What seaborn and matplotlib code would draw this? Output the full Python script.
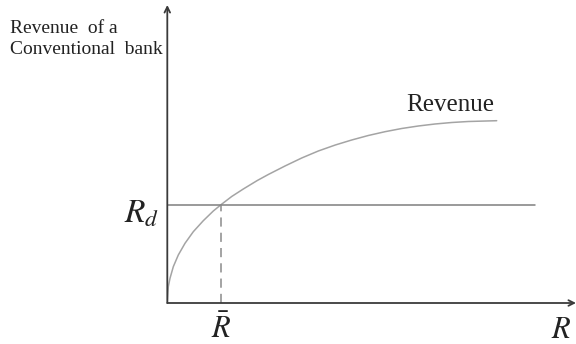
import matplotlib
matplotlib.use("Agg")
import matplotlib.pyplot as plt
import seaborn as sns
import pandas as pd

# revenue curve (arbitrary units)
R = [0, 1.0, 2.7, 6, 11, 17.7, 26, 36, 46, 53.7, 64.4, 76, 90, 101, 117.7,
     134.4, 151, 168, 184.4, 201, 217.7, 234.4, 251, 267.7, 284.4, 301, 329.4]
revenue = [0, 16.3, 24.7, 36.3, 48, 59.7, 71.3, 82.3, 92, 98.3, 106.5, 114,
           122.5, 128.5, 137, 145, 152, 158, 163, 167.5, 171.3, 174.5, 177,
           179, 180.5, 181.5, 182.3]
R_bar = 53.7
R_d = 98.3
R_d_end = 368

sns.set_style("white")
plt.rcParams['font.family'] = ['Liberation Serif', 'DejaVu Serif']
plt.rcParams['mathtext.fontset'] = 'stix'

fig = plt.figure(figsize=(5.76, 3.44), dpi=100)
ax = fig.add_axes([167.3/576, (344-303)/344, (576-167.3)/576, (303-5)/344])
ax.set_xlim(0, 408.7)
ax.set_ylim(0, 298)
ax.axis('off')

df = pd.DataFrame({'R': R, 'Revenue': revenue})
sns.lineplot(data=df, x='R', y='Revenue', ax=ax, color='#a4a4a4', lw=1.1)
ax.plot([0, R_d_end], [R_d, R_d], color='#7f7f7f', lw=1.1)
ax.plot([R_bar, R_bar], [0, R_d], color='#8a8a8a', lw=1.1, dashes=(6, 4))

# axes with arrows
ax.annotate('', xy=(408.7, 0), xytext=(0, 0), annotation_clip=False,
            arrowprops=dict(arrowstyle='->', color='#3a3a3a', lw=1.3, shrinkA=0, shrinkB=0))
ax.annotate('', xy=(0, 298), xytext=(0, 0), annotation_clip=False,
            arrowprops=dict(arrowstyle='->', color='#3a3a3a', lw=1.3, shrinkA=0, shrinkB=0))

ax.text(-157, 270, 'Revenue  of a', ha='left', va='baseline', fontsize=14, color='#222222')
ax.text(-157, 249, 'Conventional  bank', ha='left', va='baseline', fontsize=14, color='#222222')
ax.text(282.5, 192, 'Revenue', ha='center', va='baseline', fontsize=18, color='#222222')
ax.text(-8, R_d - 10, r'$R_d$', ha='right', va='center', fontsize=24, color='#222222')
ax.text(R_bar, -27, r'$\bar{R}$', ha='center', va='center', fontsize=22, color='#222222')
ax.text(394, -28, r'$R$', ha='center', va='center', fontsize=22, color='#222222')

fig.savefig('out.png', dpi=100)
